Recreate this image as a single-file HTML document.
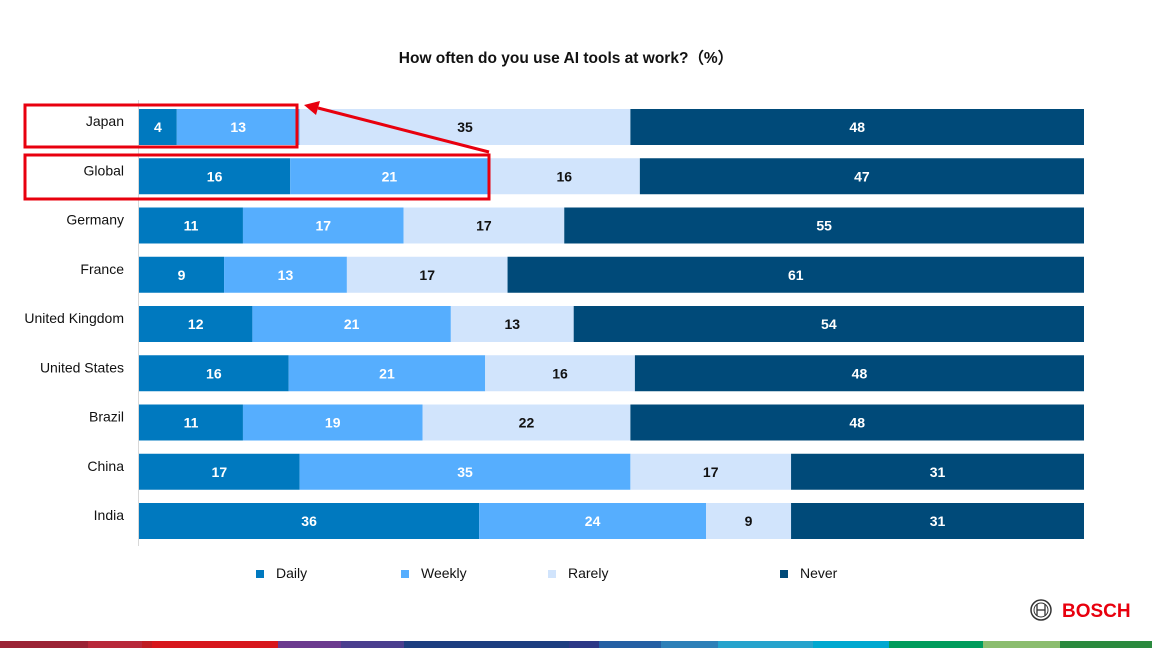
<!DOCTYPE html>
<html><head><meta charset="utf-8"><style>
body{margin:0;width:1152px;height:648px;background:#fff;overflow:hidden;font-family:"Liberation Sans",Arial,sans-serif}
svg{display:block}
</style></head><body>
<svg id="chart" width="1152" height="648">
<text x="566" y="63" text-anchor="middle" font-size="15.5" font-weight="bold" fill="#111">How often do you use AI tools at work?（%）</text>
<line x1="138.5" y1="100" x2="138.5" y2="546" stroke="#d8d8d8"/>
<g id="bars"></g>
<g id="legend"></g>
<rect x="25" y="105" width="272" height="42" fill="none" stroke="#e8000e" stroke-width="3"/>
<rect x="25" y="155" width="464" height="44" fill="none" stroke="#e8000e" stroke-width="3"/>
<line x1="489" y1="152" x2="318" y2="108" stroke="#e8000e" stroke-width="3"/>
<polygon points="304,105 320,101 316,115" fill="#e8000e"/>
<g>
<circle cx="1041" cy="610" r="10" fill="none" stroke="#333" stroke-width="1.5"/>
<circle cx="1041" cy="610" r="7" fill="none" stroke="#333" stroke-width="1"/>
<line x1="1037" y1="604" x2="1037" y2="616" stroke="#333" stroke-width="1.3"/>
<line x1="1045" y1="604" x2="1045" y2="616" stroke="#333" stroke-width="1.3"/>
<line x1="1037" y1="610" x2="1045" y2="610" stroke="#333" stroke-width="1.3"/>
<text x="1062" y="617" font-size="19" font-weight="bold" fill="#e8000e">BOSCH</text>
</g>
<g id="stripe"></g>
</svg>
<script>
const categories=["Japan","Global","Germany","France","United Kingdom","United States","Brazil","China","India"];
const daily=[4,16,11,9,12,16,11,17,36];
const weekly=[13,21,17,13,21,21,19,35,24];
const rarely=[35,16,17,17,13,16,22,17,9];
const never=[48,47,55,61,54,48,48,31,31];
const seriesNames=["Daily","Weekly","Rarely","Never"];
const colors=["#0079bf","#56aefe","#d1e4fc","#004a79"];
const textColors=["#fff","#fff","#111","#fff"];
const NS="http://www.w3.org/2000/svg";
const x0=139,plotW=945,y0=127,rowH=49.25,barH=36;
const yc=i=>y0+i*rowH;
const series=[daily,weekly,rarely,never];
const g=document.getElementById('bars');
function mk(t,a){const e=document.createElementNS(NS,t);for(const k in a)e.setAttribute(k,a[k]);return e;}
categories.forEach((c,i)=>{
  const lab=mk('text',{x:124,y:yc(i)-1,'text-anchor':'end','font-size':14,fill:'#111'});
  lab.textContent=c;
  
  
  g.appendChild(lab);
  const total=series.reduce((a,s)=>a+s[i],0);
  const xs=v=>v/total*plotW;
  let acc=0;
  series.forEach((s,k)=>{
    const v=s[i];
    const r=mk('rect',{x:x0+xs(acc),y:yc(i)-barH/2,width:xs(v),height:barH,fill:colors[k]});
    
    
    g.appendChild(r);
    const t=mk('text',{x:x0+xs(acc+v/2),y:yc(i)+5,'text-anchor':'middle','font-size':14,'font-weight':'bold',fill:textColors[k]});
    t.textContent=v;
    
    
    g.appendChild(t);
    acc+=v;
  });
});
const lg=document.getElementById('legend');
const legX=[256,401,548,780];
seriesNames.forEach((n,k)=>{
  const r=mk('rect',{x:legX[k],y:570,width:8,height:8,fill:colors[k]});
  
  
  lg.appendChild(r);
  const t=mk('text',{x:legX[k]+20,y:578,'font-size':14,fill:'#111'});
  t.textContent=n;
  
  
  lg.appendChild(t);
});
const stripe=[[0,88,"#9b2335"],[88,142,"#b8283a"],[142,152,"#c01c22"],[152,278,"#d7161c"],[278,341,"#6b3a8f"],[341,404,"#4a3e8e"],[404,569,"#1d3e80"],[569,599,"#2c3886"],[599,661,"#2560a4"],[661,718,"#2e80b8"],[718,813,"#27a3cc"],[813,889,"#00a8d0"],[889,983,"#009c5c"],[983,1060,"#8bbd6e"],[1060,1152,"#2b8a3e"]];
const sg=document.getElementById('stripe');
stripe.forEach(s=>{sg.appendChild(mk('rect',{x:s[0],y:641,width:s[1]-s[0]+0.5,height:7,fill:s[2]}));});
</script>
</body></html>
